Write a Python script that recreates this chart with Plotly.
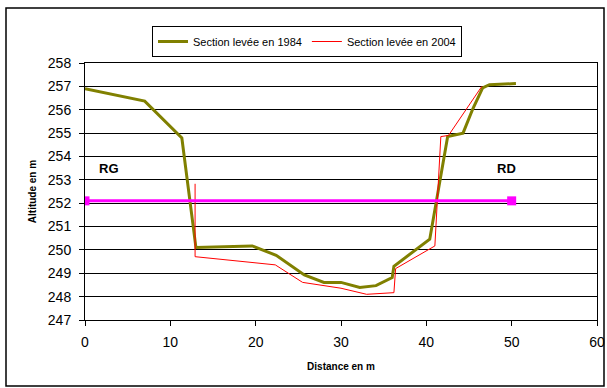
import plotly.graph_objects as go

# Section levée en 1984
x_1984 = [0, 7.0, 11.35, 11.7, 13.0, 19.6, 22.4, 25.7, 28.0, 30.0, 32.2, 34.1, 36.0, 36.2, 40.4, 42.5, 44.3, 45.45, 46.6, 47.4, 50.5]
y_1984 = [256.9, 256.37, 254.79, 253.75, 250.1, 250.17, 249.77, 248.93, 248.61, 248.61, 248.39, 248.47, 248.82, 249.3, 250.46, 254.85, 255.0, 256.04, 256.94, 257.07, 257.12]

# Section levée en 2004
x_2004 = [12.9, 12.9, 22.3, 25.5, 30.0, 33.0, 36.2, 36.4, 41.0, 41.7, 42.6, 46.5]
y_2004 = [252.83, 249.71, 249.36, 248.61, 248.36, 248.1, 248.17, 249.2, 250.17, 254.85, 254.9, 257.0]

# Water level line
x_level = [0, 50]
y_level = [252.1, 252.1]

# Bank labels
bank_labels = ["RG", "RD"]
bank_x = [2.8, 49.35]
bank_y = [253.5, 253.5]

x_ticks = [0, 10, 20, 30, 40, 50, 60]
y_ticks = list(range(247, 259))

FONT = "Liberation Sans, Arial, sans-serif"

fig = go.Figure()
fig.add_trace(go.Scatter(x=x_1984, y=y_1984, mode="lines", name="Section levée en 1984",
                         line=dict(color="#808000", width=3)))
fig.add_trace(go.Scatter(x=x_2004, y=y_2004, mode="lines", name="Section levée en 2004",
                         line=dict(color="#FF0000", width=1)))
fig.add_trace(go.Scatter(x=x_level, y=y_level, mode="lines+markers", showlegend=False,
                         line=dict(color="#FF00FF", width=3),
                         marker=dict(symbol="square", size=9, color="#FF00FF")))

for t, bx, by in zip(bank_labels, bank_x, bank_y):
    fig.add_annotation(x=bx, y=by, text="<b>%s</b>" % t, showarrow=False,
                       font=dict(family=FONT, size=13, color="black"))

# outer chart border
pw, ph = 512.0, 257.0
fig.add_shape(type="rect", xref="paper", yref="paper",
              x0=(6 - 85) / pw, x1=(604 - 85) / pw,
              y0=(320 - 386) / ph, y1=(320 - 8) / ph,
              line=dict(color="black", width=1.5), layer="below")

fig.update_layout(
    width=607, height=388,
    margin=dict(l=85, r=10, t=63, b=68, autoexpand=False),
    paper_bgcolor="white", plot_bgcolor="white",
    font=dict(family=FONT, color="black"),
    showlegend=True,
    legend=dict(orientation="h", x=(152 - 85) / pw, y=(320 - 26) / ph,
                xanchor="left", yanchor="top",
                bordercolor="black", borderwidth=1,
                font=dict(family=FONT, size=11),
                itemwidth=30, tracegroupgap=0),
)
fig.update_xaxes(range=[0, 60], tickvals=x_ticks, showgrid=False, automargin=False,
                 showline=True, linecolor="black", linewidth=1, mirror=True,
                 ticks="outside", ticklen=5, tickcolor="black",
                 tickfont=dict(family=FONT, size=14), ticklabelstandoff=4,
                 title=dict(text="<b>Distance en m</b>", font=dict(family=FONT, size=10), standoff=14),
                 zeroline=False)
fig.update_yaxes(range=[247, 258], tickvals=y_ticks, showgrid=True, gridcolor="black", gridwidth=1,
                 automargin=False,
                 showline=True, linecolor="black", linewidth=1, mirror=True,
                 ticks="outside", ticklen=5, tickcolor="black",
                 tickfont=dict(family=FONT, size=14), ticklabelstandoff=5,
                 title=dict(text="<b>Altitude en m</b>", font=dict(family=FONT, size=10), standoff=9),
                 zeroline=False)

fig.write_html("out.html", config={"displayModeBar": False},
               post_script="document.body.style.margin='0';")
